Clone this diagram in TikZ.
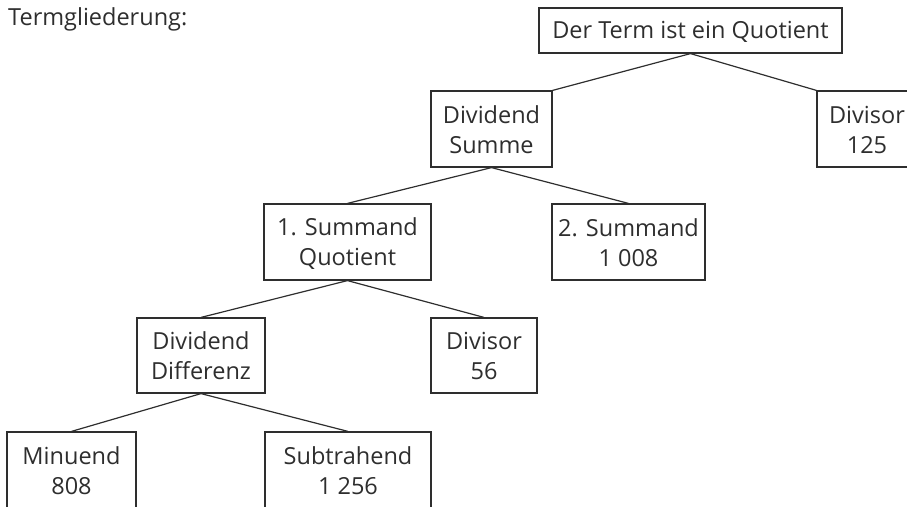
\documentclass[tikz,border=0pt]{standalone}
\usepackage{fontspec}
\setmainfont{Open Sans}
\definecolor{ink}{HTML}{2E2E2E}
\newcommand\boxtxt[1]{\rule{0pt}{20pt}#1\rule[-2pt]{0pt}{2pt}}
\begin{document}
\begin{tikzpicture}[x=1pt,y=-1pt,
  box/.style={draw=ink, line width=1.2pt, inner sep=0pt, align=center, text=ink,
    font=\fontsize{23.5}{30}\selectfont},
  link/.style={draw=ink, line width=1.2pt}]
\useasboundingbox (0,0) rectangle (907,506);
\clip (0,0) rectangle (907,506);
\node[anchor=base west, inner sep=0pt, text=ink, font=\fontsize{23.5}{30}\selectfont] (title) at (8,25) {Termgliederung:};
\node[box, minimum width=303pt, minimum height=45pt] (top) at (690.5,30.5) {\boxtxt{Der Term ist ein Quotient}};
\node[box, minimum width=121pt, minimum height=76pt] (dvd) at (491.5,129) {\boxtxt{Dividend\\Summe}};
\node[box, minimum width=100pt, minimum height=76pt] (dvsA) at (867,129) {\boxtxt{Divisor\\125}};
\node[box, minimum width=167pt, minimum height=76pt] (s1) at (347.5,242) {\boxtxt{1. Summand\\Quotient}};
\node[box, minimum width=153pt, minimum height=76pt] (s2) at (628.5,242) {\boxtxt{2. Summand\\1~008}};
\node[box, minimum width=128pt, minimum height=75pt] (dd) at (201,355.5) {\boxtxt{Dividend\\Differenz}};
\node[box, minimum width=106pt, minimum height=75pt] (d56) at (484,355.5) {\boxtxt{Divisor\\56}};
\node[box, minimum width=129pt, minimum height=76pt] (mi) at (71.5,470) {\boxtxt{Minuend\\808}};
\node[box, minimum width=166pt, minimum height=76pt] (su) at (348,470) {\boxtxt{Subtrahend\\1~256}};
\draw[link] (top.south) -- (dvd.north east);
\draw[link] (top.south) -- (dvsA.north west);
\draw[link] (dvd.south) -- (s1.north);
\draw[link] (dvd.south) -- (s2.north);
\draw[link] (s1.south) -- (dd.north);
\draw[link] (s1.south) -- (d56.north);
\draw[link] (dd.south) -- (mi.north);
\draw[link] (dd.south) -- (su.north);
\end{tikzpicture}
\end{document}
